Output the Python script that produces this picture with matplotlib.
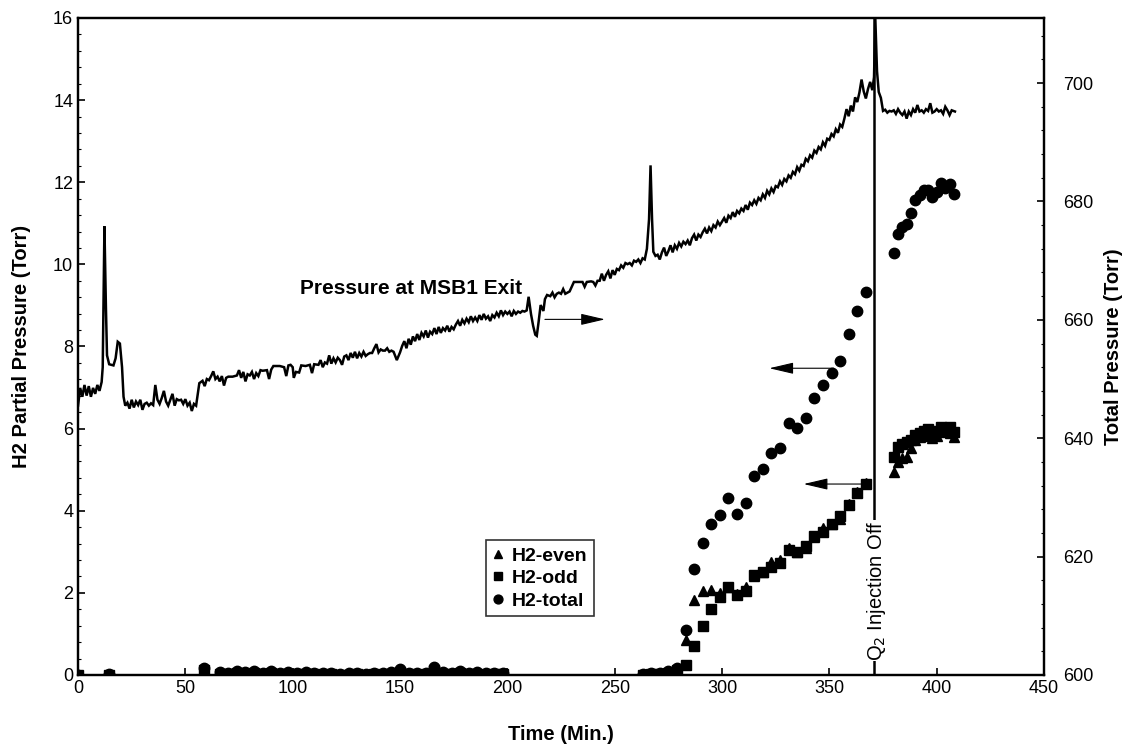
import matplotlib
matplotlib.use("Agg")
import matplotlib.pyplot as plt
from matplotlib.ticker import MultipleLocator

plt.rcParams['font.family'] = ['Liberation Sans', 'DejaVu Sans']

# H2 partial pressures (Torr) vs time (min)
t_h2 = [0, 14.5, 58.7, 66, 70, 74, 78, 82, 86, 90, 94, 98, 102, 106, 110, 114, 118,
        122, 126, 130, 134, 138, 142, 146, 150, 154, 158, 162, 166, 170, 174, 178,
        182, 186, 190, 194, 198,
        263, 267, 271, 275, 279,
        283, 287, 291, 295, 299, 303, 307, 311, 315, 319, 323, 327, 331, 335, 339,
        343, 347, 351, 355, 359, 363, 367,
        380, 382, 384, 386, 388, 390, 392, 394, 396, 398, 400, 402, 404, 406, 408]
h2_total = [0.00, 0.02, 0.18, 0.08, 0.06, 0.10, 0.07, 0.09, 0.05, 0.10, 0.06, 0.08, 0.05,
            0.07, 0.06, 0.04, 0.05, 0.03, 0.04, 0.06, 0.03, 0.05, 0.04, 0.07, 0.14, 0.05,
            0.04, 0.06, 0.19, 0.08, 0.06, 0.09, 0.05, 0.07, 0.04, 0.06, 0.05,
            0.03, 0.06, 0.05, 0.09, 0.18,
            1.10, 2.57, 3.21, 3.68, 3.90, 4.32, 3.92, 4.20, 4.85, 5.01, 5.40, 5.52, 6.13,
            6.01, 6.25, 6.74, 7.06, 7.35, 7.65, 8.30, 8.87, 9.32,
            10.27, 10.73, 10.90, 10.98, 11.24, 11.57, 11.69, 11.81, 11.81, 11.63, 11.77,
            11.99, 11.87, 11.95, 11.71]
h2_even = [0.00, 0.01, 0.07, 0.05, 0.04, 0.06, 0.04, 0.05, 0.03, 0.06, 0.04, 0.05, 0.03,
           0.04, 0.04, 0.03, 0.03, 0.02, 0.03, 0.04, 0.02, 0.03, 0.03, 0.04, 0.06, 0.03,
           0.03, 0.04, 0.08, 0.05, 0.04, 0.05, 0.03, 0.04, 0.03, 0.04, 0.03,
           0.02, 0.04, 0.03, 0.06, 0.08,
           0.84, 1.83, 2.05, 2.07, 2.00, 2.15, 1.97, 2.15, 2.42, 2.50, 2.76, 2.80, 3.09,
           3.00, 3.10, 3.35, 3.57, 3.67, 3.80, 4.16, 4.45, 4.68,
           4.95, 5.18, 5.28, 5.30, 5.52, 5.72, 5.79, 5.86, 5.83, 5.78, 5.82, 5.94, 5.92,
           5.90, 5.79]
h2_odd = [0.00, 0.01, 0.11, 0.03, 0.02, 0.04, 0.03, 0.04, 0.02, 0.04, 0.02, 0.03, 0.02,
          0.03, 0.02, 0.01, 0.02, 0.01, 0.01, 0.02, 0.01, 0.02, 0.01, 0.03, 0.08, 0.02,
          0.01, 0.02, 0.11, 0.03, 0.02, 0.04, 0.02, 0.03, 0.01, 0.02, 0.02,
          0.01, 0.02, 0.02, 0.04, 0.12,
          0.24, 0.71, 1.19, 1.60, 1.90, 2.15, 1.95, 2.05, 2.44, 2.50, 2.64, 2.72, 3.04,
          3.00, 3.15, 3.39, 3.49, 3.68, 3.86, 4.14, 4.42, 4.64,
          5.32, 5.55, 5.62, 5.68, 5.72, 5.85, 5.90, 5.95, 5.98, 5.85, 5.95, 6.05, 5.95,
          6.05, 5.92]

# total pressure at MSB1 exit (Torr)
p_time = [0, 1, 2, 3, 4, 5, 6, 7, 8, 9, 10, 11, 11.5, 12.3, 13, 13.5, 14.5, 16.5, 17.5,
          18.5, 19.5, 20.5, 21.2, 22, 23, 24, 25, 26, 27, 28, 29, 30, 31, 32, 33, 34, 35,
          36, 37, 38, 39, 40, 41, 42, 43, 44, 45, 46, 47, 48, 49, 50, 51, 52, 53, 54, 55,
          56.5, 58, 59, 60, 61, 62, 63, 64, 65, 66, 67, 68, 69, 70, 72, 74, 75, 76, 77,
          78, 79, 80, 81, 82, 83, 84, 85, 86, 88, 89, 90, 91, 92, 94, 96, 97, 98, 99,
          100, 100.5, 101.5, 103, 104, 106, 108, 109, 110, 112, 113, 114, 115, 116, 117,
          118, 119, 120, 121, 122, 123, 124, 125, 126, 127, 128, 129, 130, 131, 132, 133,
          134, 135, 136, 137, 138, 139, 140, 141, 142, 143, 144, 145, 146, 147, 148.5,
          150, 151, 152, 153, 154, 155, 156, 157, 158, 159, 160, 161, 162, 163, 164, 165,
          166, 167, 168, 169, 170, 171, 172, 173, 174, 175, 176, 177, 178, 179, 180, 181,
          182, 183, 184, 185, 186, 187, 188, 189, 190, 191, 192, 193, 194, 195, 196, 197,
          198, 199, 200, 201, 202, 203, 204, 205, 206, 207, 208, 209, 209.9, 211, 212,
          213, 213.7, 214.5, 215.5, 216.8, 217.5, 218.5, 220, 221, 222, 223, 224, 225,
          226, 227, 228, 229, 230, 231, 233, 235, 236, 237, 239, 240, 241, 242, 243, 244,
          245, 246, 247, 248, 249, 250, 251, 252, 253, 254, 255, 256, 257, 258, 259, 260,
          261, 262, 263, 264, 265, 266, 266.7, 267.4, 268, 269, 270, 271, 272, 273, 274,
          275, 276, 277, 278, 279, 280, 281, 282, 283, 284, 285, 286, 287, 288, 289, 290,
          291, 292, 293, 294, 295, 296, 297, 298, 299, 300, 301, 302, 303, 304, 305, 306,
          307, 308, 309, 310, 311, 312, 313, 314, 315, 316, 317, 318, 319, 320, 321, 322,
          323, 324, 325, 326, 327, 328, 329, 330, 331, 332, 333, 334, 335, 336, 337, 338,
          339, 340, 341, 342, 343, 344, 345, 346, 347, 348, 349, 350, 351, 352, 353, 354,
          355, 356, 357, 358, 359, 360, 361, 362, 363, 364, 365, 366, 367, 368, 369, 370,
          370.8, 371.4, 372.2, 373, 374, 375, 376, 377, 378, 379, 380, 381, 382, 383, 384,
          385, 386, 387, 388, 389, 390, 391, 392, 393, 394, 395, 396, 397, 398, 399, 400,
          401, 402, 403, 404, 405, 406, 407, 408.5]
p_torr = [645.5, 648.5, 647.0, 649.0, 647.2, 648.8, 647.0, 648.5, 647.5, 649.0, 648.0,
          649.5, 652.0, 675.8, 662.0, 654.0, 652.5, 652.3, 653.5, 656.3, 656.0, 652.0,
          647.0, 645.5, 646.0, 645.0, 646.5, 645.2, 646.2, 645.6, 646.5, 644.8, 645.8,
          646.0, 645.5, 645.9, 645.6, 649.0, 646.5, 645.8, 646.8, 648.0, 646.2, 645.5,
          646.5, 647.5, 645.5, 646.6, 646.4, 646.5, 645.8, 646.6, 645.5, 646.0, 644.6,
          645.8, 645.5,
          649.3, 649.7, 648.8, 650.0, 649.8, 650.5, 651.3, 650.0, 650.4, 649.6, 650.5,
          648.9, 650.2, 650.4, 650.4, 650.6, 651.5, 650.2, 651.2, 649.6, 650.8, 650.6,
          651.2, 650.0, 651.0, 650.5, 651.5, 651.4, 651.5, 650.0, 651.6, 652.2, 652.2,
          652.2, 652.0, 650.5, 652.3, 652.4,
          652.0, 650.2, 651.2, 651.1, 652.3, 652.2, 652.4, 651.0, 652.5, 652.4, 653.2,
          652.0, 652.8, 652.6, 654.0, 652.6, 653.5, 652.8, 653.6, 653.2, 652.4, 653.8,
          654.0, 653.2, 654.4, 653.6, 654.6, 653.5, 654.4, 653.8, 654.6, 653.9, 654.2,
          654.4, 654.4, 655.2, 655.9, 654.5, 655.0, 654.8, 654.8, 655.2, 654.6, 654.8,
          654.6, 653.2,
          654.5, 655.6, 656.4, 655.2, 656.8, 655.8, 657.2, 656.4, 657.6, 656.6, 657.8,
          657.2, 658.2, 657.0, 658.0, 657.6, 658.6, 657.6, 658.8, 657.8, 658.6, 658.2,
          659.0, 658.0, 658.8, 658.4, 659.2, 659.8, 659.0, 660.0, 659.4, 660.2, 659.6,
          660.6, 659.8, 660.4, 659.8, 660.8, 660.0, 661.0, 660.2, 660.6, 659.8, 660.8,
          660.4, 661.2, 660.6, 661.6, 660.8, 661.4,
          661.0, 661.4, 660.6, 661.5, 661.0, 661.4, 661.2, 661.5, 661.4, 661.6, 663.9,
          661.0, 659.0, 657.5, 657.3, 659.5, 662.5, 661.5, 663.5, 664.2, 664.0, 664.6,
          663.8, 664.4, 664.6, 664.4, 665.2, 664.4, 664.6, 664.8, 665.6, 666.4, 666.4,
          666.4, 665.6, 666.4, 666.5, 666.4, 665.8, 666.6, 666.6, 667.8, 666.6, 667.6,
          668.2, 667.0, 668.4,
          667.6, 668.6, 668.4, 669.2, 668.8, 669.6, 669.4, 669.6, 669.2, 670.0, 669.8,
          670.2, 669.6, 670.4, 670.2, 672.0, 677.0, 686.1, 677.0, 671.5, 670.8, 671.0,
          670.2, 671.4, 672.2, 670.8, 671.6, 672.6, 671.4, 672.6, 672.0, 673.0, 672.4,
          673.2, 672.8, 673.4, 672.6, 673.8, 674.4, 673.4, 674.4, 674.0,
          674.8, 675.4, 674.6, 675.6, 675.0, 676.0, 675.6, 676.6, 676.0, 676.6, 677.2,
          676.4, 677.6, 677.2, 678.2, 677.4, 678.4, 678.0, 678.8, 678.4, 679.4, 678.6,
          679.8, 679.4, 680.2, 679.6, 680.6, 680.2, 681.2, 680.6, 681.8, 681.2, 682.2,
          681.6, 682.6, 682.4, 683.4, 682.8, 683.8, 683.4, 684.4, 684.0, 685.0, 684.6,
          685.8, 685.2, 686.2, 686.0, 687.2, 686.8, 687.8, 687.4, 688.6, 688.2, 689.2,
          688.8, 690.0, 689.4, 690.6, 690.4, 691.4, 691.0, 692.2, 691.6, 693.0, 692.6,
          694.0, 695.6, 694.4, 696.2, 695.2, 697.6, 696.8, 698.4, 700.6, 698.6, 697.4,
          699.0, 700.2, 698.8,
          701.0, 711.0, 702.0, 698.5, 697.5, 695.3, 695.5, 695.0, 695.3, 695.2, 695.4,
          694.8, 695.6, 695.0, 694.6, 695.2, 694.0, 695.2, 694.6, 695.6, 695.0, 696.3,
          695.2, 695.4, 695.0, 695.6, 695.3, 696.6, 695.0, 695.2, 695.6, 695.2, 695.4,
          694.8, 696.0, 695.4, 694.6, 695.4, 695.2]

injection_off = 371

fig = plt.figure(figsize=(11.26, 7.46), dpi=100)
ax = fig.add_axes([0.0693, 0.0952, 0.8579, 0.8807])
ax2 = ax.twinx()

# pressure trace on the right axis
ax2.plot(p_time, p_torr, color='black', lw=1.8, solid_joinstyle='miter')
ax2.set_ylim(600, 711)
ax2.set_yticks([600, 620, 640, 660, 680, 700])
ax2.yaxis.set_minor_locator(MultipleLocator(4))
ax2.set_ylabel('Total Pressure (Torr)', fontsize=14.5, fontweight='bold', labelpad=7)

# H2 data on the left axis
ax.plot(t_h2, h2_even, '^', color='black', ms=7.5, label='H2-even', zorder=3)
ax.plot(t_h2, h2_odd, 's', color='black', ms=7, label='H2-odd', zorder=3)
ax.plot(t_h2, h2_total, 'o', color='black', ms=7.5, label='H2-total', zorder=3)

ax.set_xlim(0, 450)
ax.set_ylim(0, 16)
ax.set_xticks(range(0, 451, 50))
ax.set_yticks(range(0, 17, 2))
ax.yaxis.set_minor_locator(MultipleLocator(0.4))
ax.set_xlabel('Time (Min.)', fontsize=14.5, fontweight='bold', labelpad=20)
ax.set_ylabel('H2 Partial Pressure (Torr)', fontsize=14.5, fontweight='bold', labelpad=16)

for a in (ax, ax2):
    a.tick_params(direction='in', which='major', length=5, width=1.2, labelsize=13)
    a.tick_params(direction='in', which='minor', length=2.5, width=0.8)
    for s in a.spines.values():
        s.set_linewidth(1.6)
ax2.tick_params(axis='y', which='major', pad=14)

# injection off marker
ax.axvline(injection_off, color='black', lw=1.8, zorder=2)
ax.text(injection_off + 1, 0.35, 'Q$_2$ Injection Off', rotation=90, ha='center',
        va='bottom', fontsize=14.5, zorder=4,
        bbox=dict(facecolor='white', edgecolor='none', pad=0.5))

# labels and arrows
ax.text(155, 9.4, 'Pressure at MSB1 Exit', fontsize=15, fontweight='bold',
        ha='center', va='center')
arrow = dict(arrowstyle='-|>,head_length=1.5,head_width=0.35', color='black',
             lw=0.8, mutation_scale=10, shrinkA=0, shrinkB=0)
ax.annotate('', xy=(245.5, 8.66), xytext=(217.5, 8.66), arrowprops=arrow)
ax.annotate('', xy=(322, 7.47), xytext=(352, 7.47), arrowprops=arrow)
ax.annotate('', xy=(338, 4.65), xytext=(366, 4.65), arrowprops=arrow)

leg = ax.legend(loc='upper left', bbox_to_anchor=(0.422, 0.205),
                prop={'weight': 'bold', 'size': 14}, frameon=True, fancybox=False,
                edgecolor='black', handlelength=0.6, handletextpad=0.4,
                borderpad=0.35, labelspacing=0.25, markerscale=0.85,
                borderaxespad=0)
leg.get_frame().set_linewidth(1.2)

fig.savefig('out.png', dpi=100)
